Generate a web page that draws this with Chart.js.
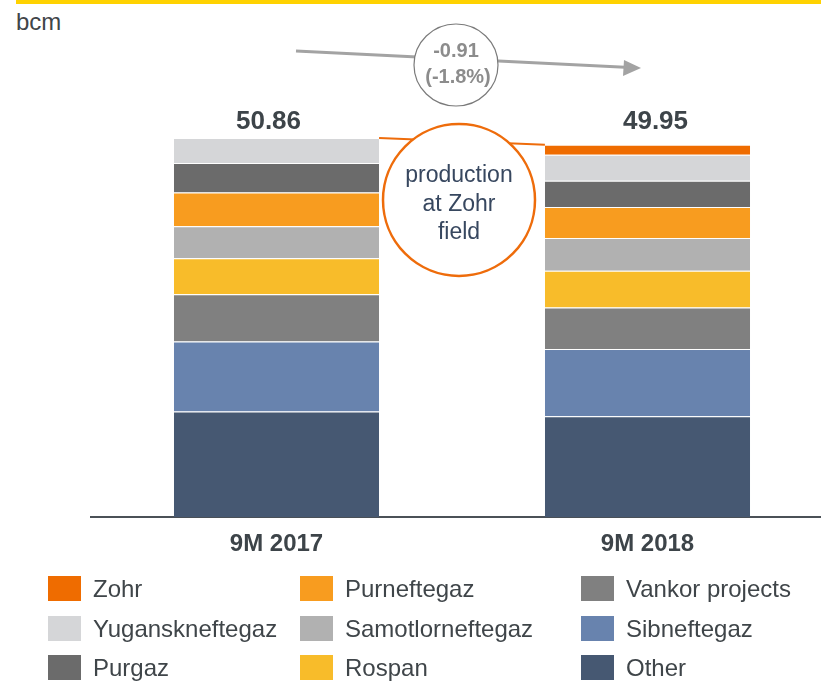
<!DOCTYPE html>
<html>
<head>
<meta charset="utf-8">
<script src="https://cdn.jsdelivr.net/npm/chart.js@4.4.0/dist/chart.umd.min.js"></script>
<style>
    html, body { margin: 0; padding: 0; background: #fff; overflow: hidden; }
    body { width: 821px; height: 681px; position: relative; font-family: "Liberation Sans", Arial, sans-serif; color: #3f4549; }
    #topline { position: absolute; left: 16px; top: 0; width: 805px; height: 4px; background: #ffd200; }
    #unit { position: absolute; left: 16px; top: 8px; font-size: 24px; }
    #wrap { position: absolute; left: 0; top: 0; width: 845px; height: 580px; }
    .item { position: absolute; height: 25px; line-height: 25px; font-size: 24px; white-space: nowrap; }
    .item span { position: absolute; left: 0; top: 0; width: 33px; height: 25px; }
    .item b { position: absolute; left: 45px; top: 0; font-weight: normal; }
</style>
</head>
<body>
<div id="topline"></div>
<div id="unit">bcm</div>
<div id="wrap"><canvas id="canvas" width="845" height="580"></canvas></div>
<div id="legend"></div>
<script>
    var periods = ["9M 2017", "9M 2018"];

    // bcm, bottom of the stack first
    var other = [14.18, 13.52];
    var sibneftegaz = [9.39, 9.02];
    var vankor = [6.31, 5.58];
    var rospan = [4.83, 4.92];
    var samotlor = [4.29, 4.39];
    var purneftegaz = [4.52, 4.16];
    var purgaz = [3.97, 3.53];
    var yugansk = [3.37, 3.49];
    var zohr = [0, 1.34];

    var series = [
        {label: "Other", data: other, color: "#465872"},
        {label: "Sibneftegaz", data: sibneftegaz, color: "#6883ae"},
        {label: "Vankor projects", data: vankor, color: "#808080"},
        {label: "Rospan", data: rospan, color: "#f8bc2a"},
        {label: "Samotlorneftegaz", data: samotlor, color: "#b1b1b1"},
        {label: "Purneftegaz", data: purneftegaz, color: "#f89c1f"},
        {label: "Purgaz", data: purgaz, color: "#6b6b6b"},
        {label: "Yuganskneftegaz", data: yugansk, color: "#d5d6d8"},
        {label: "Zohr", data: zohr, color: "#ef6c00"}
    ];

    // legend is laid out column by column
    var legendOrder = ["Zohr", "Yuganskneftegaz", "Purgaz",
        "Purneftegaz", "Samotlorneftegaz", "Rospan",
        "Vankor projects", "Sibneftegaz", "Other"];

    var totals = periods.map(function (p, i) {
        var s = 0;
        for (var k = 0; k < series.length; k++) s += series[k].data[i];
        return s;
    });

    var legendHtml = "";
    var colX = [48, 300, 581];
    var rowY = [576, 616, 655];
    for (var i = 0; i < legendOrder.length; i++) {
        var s = series.filter(function (d) { return d.label == legendOrder[i]; })[0];
        legendHtml += '<div class="item" style="left:' + colX[Math.floor(i / 3)] + 'px;top:' + rowY[i % 3] + 'px">' +
            '<span style="background:' + s.color + '"></span><b>' + s.label + '</b></div>';
    }
    document.getElementById("legend").innerHTML = legendHtml;

    var annotations = {
        id: "annotations",
        afterDatasetsDraw: function (chart) {
            var ctx = chart.ctx;
            var x = chart.scales.x, y = chart.scales.y;
            var half = chart.getDatasetMeta(0).data[0].width / 2;

            // totals above the bars
            var shift = [-8, 8];
            ctx.save();
            ctx.fillStyle = "#3d4449";
            ctx.font = "bold 26px 'Liberation Sans', Arial";
            ctx.textAlign = "center";
            ctx.textBaseline = "alphabetic";
            for (var i = 0; i < totals.length; i++) {
                ctx.fillText(totals[i].toFixed(2), x.getPixelForValue(i) + shift[i], 129);
            }

            // change arrow
            var diff = totals[1] - totals[0];
            var pct = diff / totals[0] * 100;
            ctx.strokeStyle = "#a3a3a3";
            ctx.fillStyle = "#a3a3a3";
            ctx.lineWidth = 3;
            ctx.beginPath();
            ctx.moveTo(296, 51);
            ctx.lineTo(630, 67.5);
            ctx.stroke();
            ctx.beginPath();
            ctx.moveTo(641, 68);
            ctx.lineTo(624, 60);
            ctx.lineTo(623, 76);
            ctx.closePath();
            ctx.fill();
            ctx.beginPath();
            ctx.ellipse(456, 65, 42, 41, 0, 0, Math.PI * 2);
            ctx.fillStyle = "#fff";
            ctx.fill();
            ctx.lineWidth = 1.2;
            ctx.strokeStyle = "#7a7a7a";
            ctx.stroke();
            ctx.fillStyle = "#8c8c8c";
            ctx.font = "bold 20px 'Liberation Sans', Arial";
            ctx.textBaseline = "middle";
            ctx.fillText(diff.toFixed(2), 456, 51);
            ctx.fillText("(" + pct.toFixed(1) + "%)", 458, 77);

            // Zohr callout
            var topA = y.getPixelForValue(totals[0]);
            var topB = y.getPixelForValue(totals[1]);
            ctx.strokeStyle = "#ee6c0b";
            ctx.lineWidth = 2;
            ctx.beginPath();
            ctx.moveTo(x.getPixelForValue(0) + half, topA);
            ctx.lineTo(x.getPixelForValue(1) - half, topB);
            ctx.stroke();
            ctx.beginPath();
            ctx.arc(459, 200, 76, 0, Math.PI * 2);
            ctx.fillStyle = "#fff";
            ctx.fill();
            ctx.lineWidth = 2.5;
            ctx.stroke();
            ctx.fillStyle = "#37475f";
            ctx.font = "23px 'Liberation Sans', Arial";
            ctx.textBaseline = "alphabetic";
            ctx.fillText("production", 459, 182);
            ctx.fillText("at Zohr", 459, 211);
            ctx.fillText("field", 459, 239);
            ctx.restore();
        }
    };

    var config = {
        type: "bar",
        data: {
            labels: periods,
            datasets: series.map(function (s) {
                return {
                    label: s.label,
                    data: s.data,
                    backgroundColor: s.color,
                    borderColor: "#ffffff",
                    borderWidth: {top: 1, left: 0, right: 0, bottom: 0},
                    borderSkipped: false,
                    barPercentage: 0.553,
                    categoryPercentage: 1
                };
            })
        },
        options: {
            responsive: false,
            animation: false,
            layout: {padding: {top: 107, left: 91, right: 12, bottom: 8}},
            plugins: {legend: {display: false}, tooltip: {enabled: false}},
            scales: {
                x: {
                    stacked: true,
                    grid: {display: false, drawTicks: false},
                    border: {display: true, color: "#4b5157", width: 2},
                    ticks: {color: "#3d4449", font: {family: "'Liberation Sans', Arial", size: 24, weight: "bold"}, padding: 13}
                },
                y: {
                    stacked: true,
                    display: false,
                    min: 0,
                    max: 55
                }
            }
        },
        plugins: [annotations]
    };

    var ctx = document.getElementById("canvas").getContext("2d");
    new Chart(ctx, config);
</script>
</body>
</html>
